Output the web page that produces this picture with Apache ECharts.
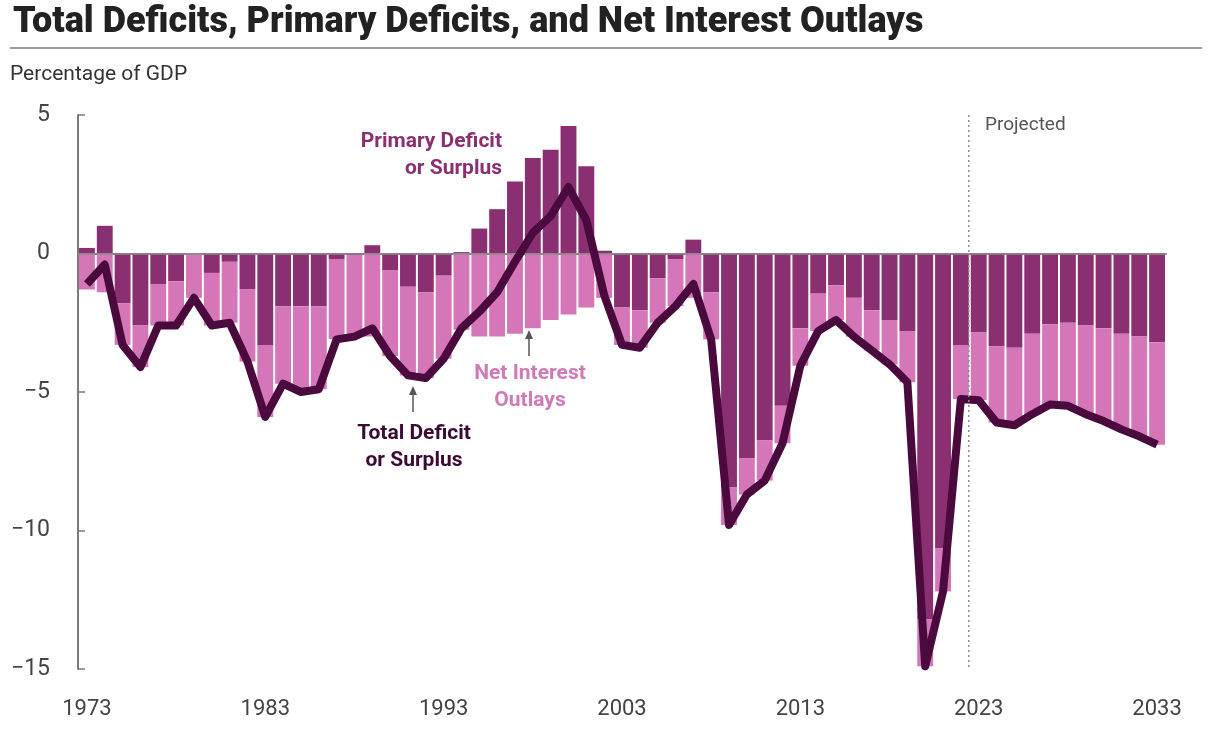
<!DOCTYPE html>
<html lang="en">
<head>
    <meta charset="UTF-8">
    <title>Total Deficits, Primary Deficits, and Net Interest Outlays</title>
    <script src="https://cdn.jsdelivr.net/npm/echarts@6/dist/echarts.min.js"></script>
    <style>
        html, body { margin: 0; padding: 0; background: #fff; }
    </style>
</head>
<body>
    <div id="main" style="width: 1212px;height:738px;"></div>
    <script type="text/javascript">

        // fiscal years 1973-2033 (2023 onward projected)
        const years = [];
        for (let y = 1973; y <= 2033; y++) years.push(String(y));
        const firstProjected = '2023';

        // primary deficit (-) or surplus (+), % of GDP
        const primary = [
            0.2, 1.0, -1.8, -2.6, -1.1, -1.0, 0.0, -0.7, -0.3, -1.3,
            -3.3, -1.9, -1.9, -1.9, -0.2, -0.05, 0.3, -0.6, -1.2, -1.4,
            -0.8, 0.05, 0.9, 1.6, 2.6, 3.45, 3.75, 4.6, 3.15, 0.1,
            -1.95, -2.05, -0.9, -0.2, 0.5, -1.4, -8.45, -7.4, -6.75, -5.5,
            -2.7, -1.45, -1.15, -1.6, -2.05, -2.4, -2.8, -13.2, -10.65, -3.3,
            -2.85, -3.35, -3.4, -2.9, -2.55, -2.5, -2.6, -2.7, -2.9, -3.0,
            -3.2
        ];

        // net interest outlays, % of GDP (drawn below zero)
        const interest = [
            1.3, 1.4, 1.5, 1.5, 1.5, 1.6, 1.6, 1.9, 2.2, 2.6,
            2.6, 2.8, 3.1, 3.0, 2.9, 2.95, 3.0, 3.1, 3.2, 3.1,
            3.0, 2.75, 3.0, 3.0, 2.9, 2.7, 2.4, 2.2, 1.95, 1.6,
            1.35, 1.35, 1.6, 1.7, 1.6, 1.7, 1.35, 1.3, 1.45, 1.35,
            1.35, 1.35, 1.25, 1.4, 1.45, 1.6, 1.85, 1.7, 1.55, 1.95,
            2.45, 2.75, 2.8, 2.9, 2.9, 3.0, 3.2, 3.35, 3.45, 3.6,
            3.7
        ];

        // total deficit (-) or surplus (+), % of GDP
        const total = [
            -1.1, -0.4, -3.3, -4.1, -2.6, -2.6, -1.6, -2.6, -2.5, -3.9,
            -5.9, -4.7, -5.0, -4.9, -3.1, -3.0, -2.7, -3.7, -4.4, -4.5,
            -3.8, -2.7, -2.1, -1.4, -0.3, 0.75, 1.35, 2.4, 1.2, -1.5,
            -3.3, -3.4, -2.5, -1.9, -1.1, -3.1, -9.8, -8.7, -8.2, -6.85,
            -4.05, -2.8, -2.4, -3.0, -3.5, -4.0, -4.65, -14.9, -12.2, -5.25,
            -5.3, -6.1, -6.2, -5.8, -5.45, -5.5, -5.8, -6.05, -6.35, -6.6,
            -6.9
        ];

        const yTicks = [-15, -10, -5, 0, 5];

        const colPrimary = '#8a2f72';
        const colInterest = '#d476b7';
        const colTotal = '#4b0a3d';
        const axisGrey = '#7a7a7a';
        const textGrey = '#444';
        const font = 'Roboto, "Noto Sans", sans-serif';

        const myChart = echarts.init(document.getElementById('main'));

        const option = {
            animation: false,
            title: {
                text: 'Total Deficits, Primary Deficits, and Net Interest Outlays',
                left: 8,
                top: 0,
                textStyle: { fontFamily: font, fontSize: 36, fontWeight: 900, color: '#222' }
            },
            grid: { left: 78, right: 46, top: 115, bottom: 69 },
            xAxis: {
                type: 'category',
                data: years,
                axisLine: { lineStyle: { color: axisGrey, width: 2 } },
                axisTick: {
                    inside: true, length: 8, alignWithLabel: true,
                    interval: (i) => i % 10 === 0,
                    lineStyle: { color: axisGrey, width: 1.5 }
                },
                axisLabel: {
                    interval: (i) => i % 10 === 0,
                    margin: 29,
                    fontFamily: font, fontSize: 22, color: textGrey
                }
            },
            yAxis: {
                type: 'value',
                min: yTicks[0],
                max: yTicks[yTicks.length - 1],
                interval: 5,
                axisLine: { show: true, lineStyle: { color: axisGrey, width: 2 } },
                axisTick: { show: true, inside: true, length: 7, lineStyle: { color: axisGrey, width: 1.5 } },
                splitLine: { show: false },
                axisLabel: {
                    margin: 28,
                    fontFamily: font, fontSize: 23, color: textGrey,
                    formatter: (v) => String(v).replace('-', '\u2212')
                }
            },
            series: [
                {
                    name: 'Primary Deficit or Surplus',
                    type: 'bar',
                    stack: 'deficit',
                    data: primary,
                    barCategoryGap: '11%',
                    itemStyle: { color: colPrimary },
                    markLine: {
                        silent: true,
                        symbol: 'none',
                        label: { show: false },
                        data: [
                            { yAxis: 0, lineStyle: { color: '#8c8c8c', width: 1.5, type: 'solid' } }
                        ]
                    }
                },
                {
                    name: 'Net Interest Outlays',
                    type: 'bar',
                    stack: 'deficit',
                    data: interest.map(v => -v),
                    itemStyle: { color: colInterest }
                },
                {
                    name: 'Total Deficit or Surplus',
                    type: 'line',
                    data: total,
                    symbol: 'none',
                    z: 5,
                    lineStyle: { color: colTotal, width: 8, join: 'round' }
                }
            ],
            graphic: [
                {
                    type: 'line',
                    shape: { x1: 10, y1: 48, x2: 1202, y2: 48 },
                    style: { stroke: '#9a9a9a', lineWidth: 2 }
                },
                {
                    type: 'text', left: 10, top: 64,
                    style: { text: 'Percentage of GDP', fontFamily: font, fontSize: 21, fill: '#333' }
                },
                {
                    type: 'text', left: 985, top: 116,
                    style: { text: 'Projected', fontFamily: font, fontSize: 19, fill: '#555' }
                },
                {
                    type: 'text', x: 502, y: 128,
                    style: {
                        text: 'Primary Deficit\nor Surplus', align: 'right', lineHeight: 27,
                        fontFamily: font, fontSize: 21, fontWeight: 'bold', fill: colPrimary
                    }
                },
                {
                    type: 'text', x: 530, y: 360,
                    style: {
                        text: 'Net Interest\nOutlays', align: 'center', lineHeight: 27,
                        fontFamily: font, fontSize: 21, fontWeight: 'bold', fill: '#d27ab8'
                    }
                },
                {
                    type: 'text', x: 414, y: 420,
                    style: {
                        text: 'Total Deficit\nor Surplus', align: 'center', lineHeight: 27,
                        fontFamily: font, fontSize: 21, fontWeight: 'bold', fill: '#3d0a33'
                    }
                },
                {
                    type: 'line',
                    shape: { x1: 413, y1: 412, x2: 413, y2: 389 },
                    style: { stroke: '#555', lineWidth: 1.5 }
                },
                {
                    type: 'polygon',
                    shape: { points: [[409, 395], [413, 386], [417, 395]] },
                    style: { fill: '#555' }
                },
                {
                    type: 'line',
                    shape: { x1: 529, y1: 356, x2: 529, y2: 333 },
                    style: { stroke: '#555', lineWidth: 1.5 }
                },
                {
                    type: 'polygon',
                    shape: { points: [[525, 339], [529, 330], [533, 339]] },
                    style: { fill: '#555' }
                }
            ]
        };

        myChart.setOption(option);

        // dotted divider between actual and projected years, placed from the axis
        const idx = years.indexOf(firstProjected);
        const xPrev = myChart.convertToPixel({ xAxisIndex: 0 }, years[idx - 1]);
        const xNext = myChart.convertToPixel({ xAxisIndex: 0 }, years[idx]);
        const xDiv = (xPrev + xNext) / 2 - 1;
        const yTop = myChart.convertToPixel({ yAxisIndex: 0 }, yTicks[yTicks.length - 1]);
        const yBot = myChart.convertToPixel({ yAxisIndex: 0 }, yTicks[0]);
        myChart.setOption({
            graphic: option.graphic.concat([{
                type: 'line',
                z: 10,
                shape: { x1: xDiv, y1: yTop, x2: xDiv, y2: yBot },
                style: { stroke: '#8c8c8c', lineWidth: 1.5, lineDash: [2, 3] }
            }])
        });
    </script>
</body>
</html>
